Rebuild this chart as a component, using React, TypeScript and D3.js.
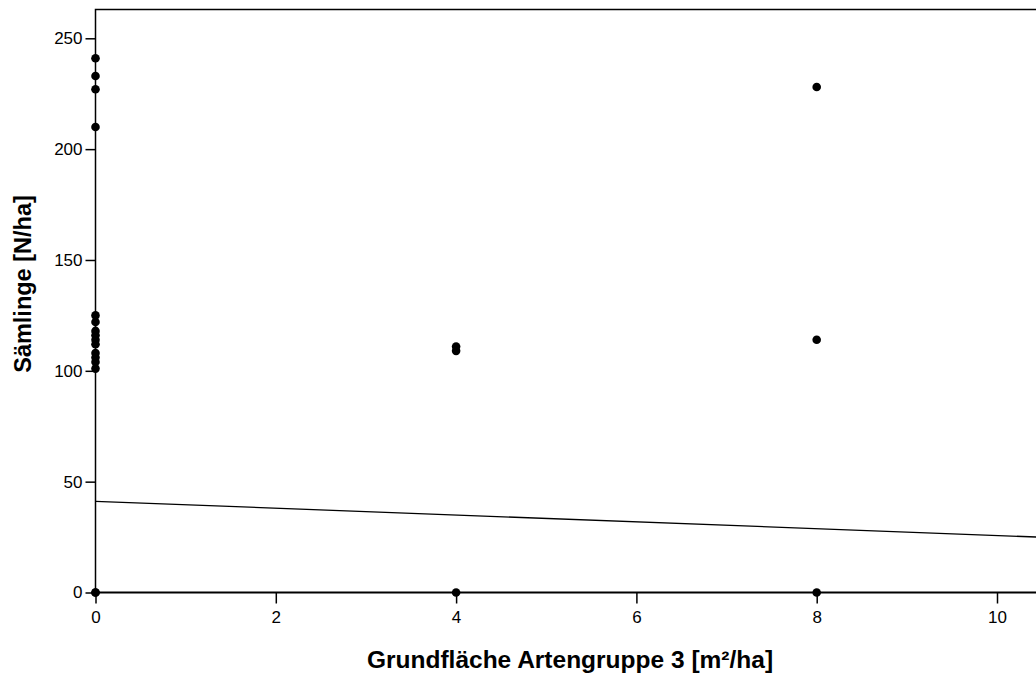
import React, { useEffect, useRef } from 'react';
import * as d3 from 'd3';

// Grundfläche Artengruppe 3 [m²/ha] vs. Sämlinge [N/ha]
const xValues = [0, 0, 0, 0, 0, 0, 0, 0, 0, 0, 0, 0, 0, 0, 0, 0, 4, 4, 4, 8, 8, 8];
const yValues = [241, 233, 227, 210, 125, 122, 118, 116, 114, 112, 108, 106, 104, 101, 0, 0, 111, 109, 0, 228, 114, 0];
const xTicks = [0, 2, 4, 6, 8, 10];
const yTicks = [0, 50, 100, 150, 200, 250];
// linear fit line
const fitIntercept = 41.1;
const fitSlope = -1.54;

const width = 1036;
const height = 673;
const font = 'Liberation Sans, Arial, sans-serif';

function App() {
  const ref = useRef<SVGSVGElement>(null);

  useEffect(() => {
    const svg = d3.select(ref.current);
    svg.selectAll('*').remove();

    const left = 95.5;
    const top = 9.5;
    const bottom = 592.5;

    const x = d3.scaleLinear().domain([0, 10]).range([left, 997]);
    const y = d3.scaleLinear().domain([0, 250]).range([bottom, 38.3]);
    const xMax = x.invert(width + 5);

    // frame
    svg.append('path')
      .attr('d', `M${left},${bottom}V${top}H${width + 5}`)
      .attr('fill', 'none')
      .attr('stroke', 'black')
      .attr('stroke-width', 1.5);

    // y axis
    const yAxis = svg.append('g')
      .attr('transform', `translate(${left},0)`)
      .call(d3.axisLeft(y).tickValues(yTicks).tickSize(10).tickPadding(3));
    yAxis.select('.domain').remove();
    yAxis.selectAll('line').attr('stroke-width', 1.5);
    yAxis.selectAll('text')
      .attr('font-family', font)
      .attr('font-size', 17)
      .attr('fill', 'black');

    // x axis
    const xAxis = svg.append('g')
      .attr('transform', `translate(0,${bottom})`)
      .call(d3.axisBottom(x).tickValues(xTicks).tickSize(11).tickPadding(7.5));
    xAxis.select('.domain').remove();
    xAxis.selectAll('line').attr('stroke-width', 1.5);
    xAxis.selectAll('text')
      .attr('font-family', font)
      .attr('font-size', 17)
      .attr('fill', 'black');

    // bottom line
    svg.append('line')
      .attr('x1', left).attr('x2', width + 5)
      .attr('y1', bottom).attr('y2', bottom)
      .attr('stroke', 'black')
      .attr('stroke-width', 2);

    // fit line
    svg.append('line')
      .attr('x1', x(0)).attr('y1', y(fitIntercept))
      .attr('x2', x(xMax)).attr('y2', y(fitIntercept + fitSlope * xMax))
      .attr('stroke', 'black')
      .attr('stroke-width', 1.3);

    // points
    svg.append('g')
      .selectAll('circle')
      .data(xValues.map((d, i) => [d, yValues[i]]))
      .enter()
      .append('circle')
      .attr('cx', (d) => x(d[0]))
      .attr('cy', (d) => y(d[1]))
      .attr('r', 4.3)
      .attr('fill', 'black');

    // axis titles
    svg.append('text')
      .attr('x', 570)
      .attr('y', 668)
      .attr('text-anchor', 'middle')
      .attr('font-family', font)
      .attr('font-weight', 'bold')
      .attr('font-size', 24.5)
      .text('Grundfläche Artengruppe 3 [m²/ha]');

    svg.append('text')
      .attr('transform', `translate(31,284) rotate(-90)`)
      .attr('text-anchor', 'middle')
      .attr('font-family', font)
      .attr('font-weight', 'bold')
      .attr('font-size', 23.5)
      .text('Sämlinge [N/ha]');
  }, []);

  return (
    <svg
      ref={ref}
      width={width}
      height={height}
      style={{ position: 'absolute', left: 0, top: 0, background: 'white' }}
    />
  );
}

export default App;
